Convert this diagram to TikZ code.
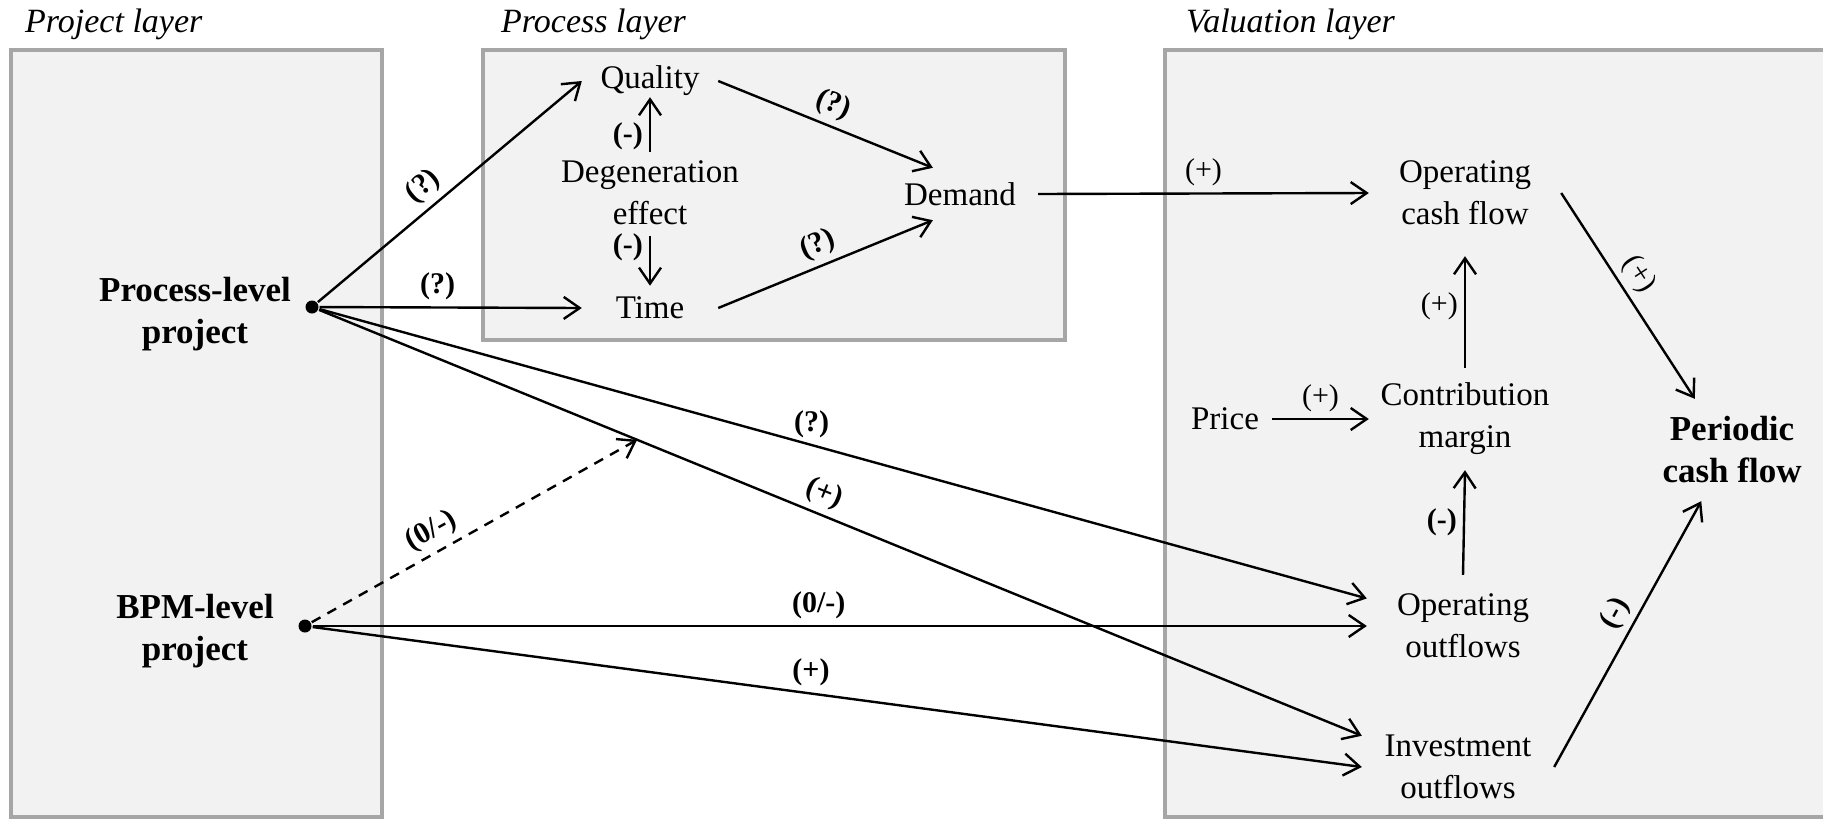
\documentclass[tikz,border=0pt]{standalone}
\usepackage{fontspec}
\setmainfont{Liberation Serif}
\usepackage{tikz}
\usetikzlibrary{arrows.meta,calc}

\begin{document}
\begin{tikzpicture}[->,>={Straight Barb[length=8pt,width=11pt]},x=0.5pt,y=0.5pt,
                    line width=1.2pt,font=\fontsize{16.5}{21}\selectfont]
  \tikzstyle{layerbox}=[-,draw=black!35,fill=black!5,line width=2pt]
  \tikzstyle{layertitle}=[anchor=base west,inner sep=0pt,font=\fontsize{17}{21}\selectfont\itshape]
  \tikzstyle{var}=[align=center,inner sep=0pt]
  \tikzstyle{key}=[var,font=\fontsize{17.5}{21}\selectfont\bfseries]
  \tikzstyle{cash}=[var,minimum width=95pt,minimum height=50pt]
  \tikzstyle{dot}=[circle,fill=black,inner sep=0pt,minimum size=6.5pt]
  \tikzstyle{sign}=[inner sep=3pt,font=\fontsize{15}{18}\selectfont\bfseries]
  \tikzstyle{signr}=[inner sep=3pt,font=\fontsize{15}{18}\selectfont]

  \useasboundingbox (0,0) rectangle (1823,-820);
  \clip (0,0) rectangle (1823,-820);

  % the three layers
  \draw[layerbox] (11,-50) rectangle (382,-817);
  \draw[layerbox] (483,-50) rectangle (1065,-340);
  \draw[layerbox] (1165,-50) rectangle (1840,-817);
  \node[layertitle] (tproj) at (24,-32) {Project layer};
  \node[layertitle] (tproc) at (500,-32) {Process layer};
  \node[layertitle] (tval) at (1185,-32) {Valuation layer};

  % project layer
  \node[key] (proj) at (195,-314) {Process-level\\project};
  \node[key] (bpm) at (195,-631) {BPM-level\\project};
  \node[dot] (dotP) at (312,-307) {};
  \node[dot] (dotB) at (305,-626) {};

  % process layer
  \node[var,minimum width=67pt] (quality) at (650,-81) {Quality};
  \node[var] (degen) at (650,-193) {Degeneration\\effect};
  \node[var,minimum width=67pt] (time) at (650,-308) {Time};
  \node[var,minimum width=77pt,minimum height=25pt] (demand) at (960,-194) {Demand};

  % valuation layer
  \node[cash] (ocf) at (1465,-193) {Operating\\cash flow};
  \node[var,inner xsep=6pt] (price) at (1225,-419) {Price};
  \node[cash] (contrib) at (1465,-419) {Contribution\\margin};
  \node[cash] (opout) at (1463,-626) {Operating\\outflows};
  \node[cash] (invout) at (1458,-767) {Investment\\outflows};
  \node[cash,key] (period) at (1732,-450) {Periodic\\cash flow};

  \draw (dotP) -- node[sign,sloped,above,pos=0.45] {(?)} (quality.west);
  \draw (dotP) -- node[sign,above,pos=0.45] {(?)} (time.west);
  \draw (quality.east) -- node[sign,sloped,above] {(?)} (demand.136);
  \draw (time.east) -- node[sign,sloped,above] {(?)} (demand.224);
  \draw[shorten <=4pt] (degen.north) -- node[sign,left,pos=0.38] {(-)} (quality.south);
  \draw[shorten <=5pt,shorten >=5pt] (degen.south) -- node[sign,left,pos=0.3] {(-)} (time.north);

  \draw (demand.east) -- node[signr,above] {(+)} (ocf.west);
  \draw (price) -- node[signr,above] {(+)} (contrib.west);
  \draw[shorten >=6pt] (contrib.north) -- node[signr,left] {(+)} (ocf.south);
  \draw (opout.north) -- node[sign,left] {(-)} (contrib.south);
  \draw (ocf.east) -- node[signr,sloped,above,pos=0.45] {(+)} (period.126);
  \draw (invout.east) -- node[sign,sloped,above,pos=0.54] {(-)} (period.239);

  \draw (dotP) -- node[sign,above,pos=0.47] {(?)} (opout.164);
  \draw (dotP) -- node[sign,sloped,above,pos=0.477] {(+)}
    coordinate[pos=0.305] (cross) (invout.162);
  \draw[dash pattern=on 5pt off 4pt] (dotB) -- node[sign,sloped,above,pos=0.4] {(0/-)} (cross);
  \draw (dotB) -- node[sign,above,pos=0.48] {(0/-)} (opout.west);
  \draw (dotB) -- node[sign,above,pos=0.475] {(+)} (invout.west);
\end{tikzpicture}
\end{document}
